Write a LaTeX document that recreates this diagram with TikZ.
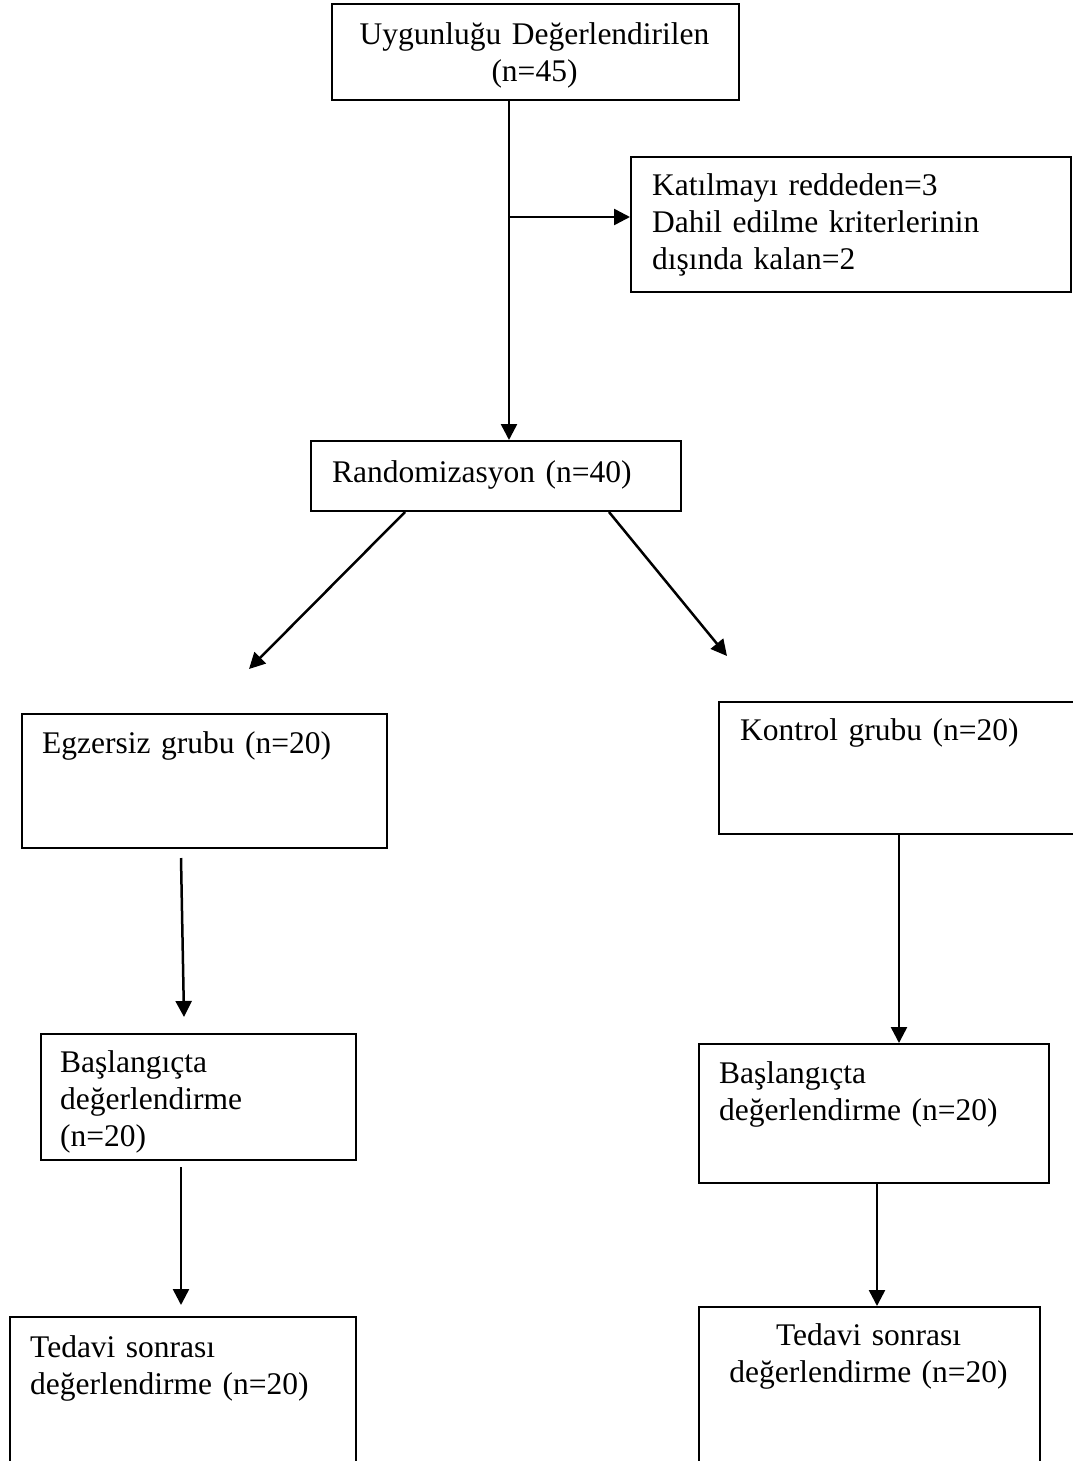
\documentclass[tikz,border=0pt]{standalone}
\usepackage{fontspec}
\setmainfont{Liberation Serif}
\usetikzlibrary{arrows.meta}

\begin{document}
\begin{tikzpicture}[x=1pt,y=-1pt,
   box/.style={draw, line width=2pt, rectangle, inner sep=0pt, anchor=north west},
   txt/.style={inner sep=0pt, anchor=base west, align=left, text width=420pt,
               font=\fontsize{31.5}{37}\selectfont},
   ctxt/.style={txt, anchor=base, align=center},
   arr/.style={line width=2.5pt, -{Triangle[length=16pt,width=16pt]}}]
   % Page frame
   \useasboundingbox (0,0) rectangle (1073,1461);
   \clip (0,0) rectangle (1073,1461);
   % Boxes
   \node[box, minimum width=407pt, minimum height=96pt]  (eval) at (331,3) {};
   \node[box, minimum width=440pt, minimum height=135pt] (excl) at (630,156) {};
   \node[box, minimum width=370pt, minimum height=70pt]  (rand) at (310,440) {};
   \node[box, minimum width=365pt, minimum height=134pt] (egz)  at (21,713) {};
   \node[box, minimum width=400pt, minimum height=132pt] (kon)  at (718,701) {};
   \node[box, minimum width=315pt, minimum height=126pt] (basL) at (40,1033) {};
   \node[box, minimum width=350pt, minimum height=139pt] (basR) at (698,1043) {};
   \node[box, minimum width=346pt, minimum height=200pt] (tedL) at (9,1316) {};
   \node[box, minimum width=341pt, minimum height=200pt] (tedR) at (698,1306) {};
   % Texts
   \node[ctxt, text width=400pt] (evalTxt) at (534.5,45) {Uygunluğu Değerlendirilen\\(n=45)};
   \node[txt] (exclTxt) at (652,195) {Katılmayı reddeden=3\\Dahil edilme kriterlerinin\\dışında kalan=2};
   \node[txt] (randTxt) at (332,482) {Randomizasyon (n=40)};
   \node[txt] (egzTxt)  at (42,753)  {Egzersiz grubu (n=20)};
   \node[txt] (konTxt)  at (740,740) {Kontrol grubu (n=20)};
   \node[txt] (basLTxt) at (60,1072) {Başlangıçta\\değerlendirme\\(n=20)};
   \node[txt] (basRTxt) at (719,1083) {Başlangıçta\\değerlendirme (n=20)};
   \node[txt] (tedLTxt) at (30,1357) {Tedavi sonrası\\değerlendirme (n=20)};
   \node[ctxt, text width=330pt] (tedRTxt) at (868.5,1345) {Tedavi sonrası\\değerlendirme (n=20)};
   % Free arrow ends
   \coordinate (split)   at (509,217);
   \coordinate (egzTip)  at (249,669);
   \coordinate (konTip)  at (727,656);
   \coordinate (egzOut)  at (181,858);
   \coordinate (basLIn)  at (184,1017);
   \coordinate (basLOut) at (181,1167);
   \coordinate (tedLIn)  at (181,1305);
   % Arrows
   \draw[arr] (split |- eval.south) -- (split |- rand.north);
   \draw[arr] (split) -- (split -| excl.west);
   \draw[arr] ([xshift=95pt]rand.south west) -- (egzTip);
   \draw[arr] ([xshift=299pt]rand.south west) -- (konTip);
   \draw[arr] (egzOut) -- (basLIn);
   \draw[arr] ([xshift=181pt]kon.south west) -- ([xshift=201pt]basR.north west);
   \draw[arr] (basLOut) -- (tedLIn);
   \draw[arr] ([xshift=179pt]basR.south west) -- ([xshift=179pt]tedR.north west);
\end{tikzpicture}
\end{document}
